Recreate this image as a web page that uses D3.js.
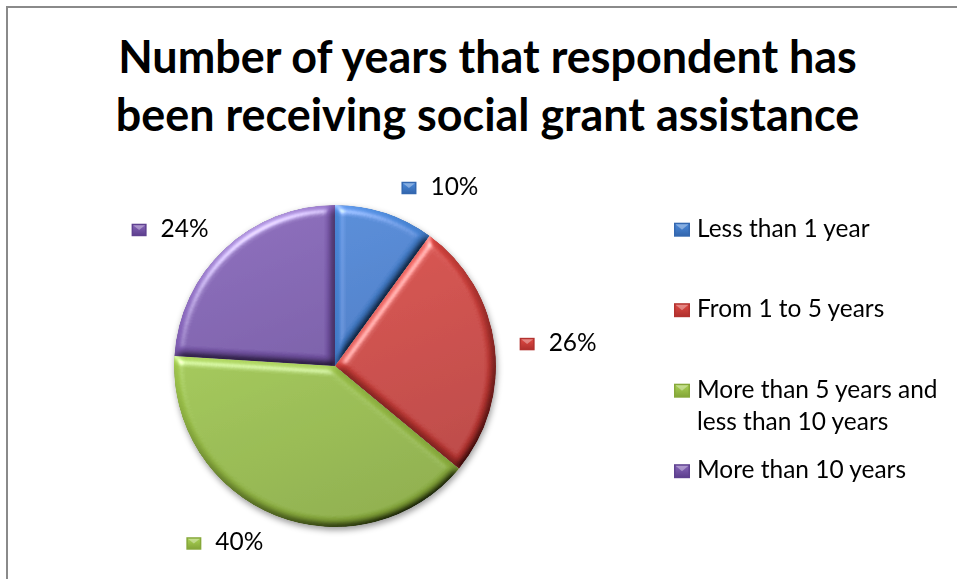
<!DOCTYPE html>
<html>
<head>
<meta charset="utf-8">
<script src="https://cdn.jsdelivr.net/npm/d3@7"></script>
<style>
  html, body { margin: 0; padding: 0; background: #fff; }
  svg { display: block; }
</style>
</head>
<body>
<script>
// ---- data ----
const titleLines = ["Number of years that respondent has", "been receiving social grant assistance"];
const categories = ["Less than 1 year", "From 1 to 5 years", "More than 5 years and less than 10 years", "More than 10 years"];
const shares = [10, 26, 40, 24];
const colorsTop = ["#4a88d8", "#dc4842", "#a8d053", "#8462b6"];
const colorsBottom = ["#3468b0", "#b3322f", "#86a83a", "#5f4190"];

// ---- layout ----
const W = 957, H = 579;
const FONT = "Lato, 'Open Sans', sans-serif";
const cx = 335, cy = 366, R = 161;

const svg = d3.select("body").append("svg").attr("width", W).attr("height", H);

function textWidth(text, weight, size) {
  const t = svg.append("text").attr("font-family", FONT).attr("font-weight", weight)
    .attr("font-size", size).text(text);
  const w = t.node().getComputedTextLength();
  t.remove();
  return w;
}
function fitSize(text, weight, target) {
  return 100 * target / textWidth(text, weight, 100);
}

const titleSize = fitSize(titleLines[0], "bold", 739);
const bodySize = (fitSize("More than 5 years and", "normal", 243) + fitSize("Less than 1 year", "normal", 171)) / 2;

// chart frame
svg.append("rect").attr("x", 7).attr("y", 7).attr("width", W + 20).attr("height", H + 20)
  .attr("fill", "#fff").attr("stroke", "#8a8a8a").attr("stroke-width", 2);

// title
svg.append("g").selectAll("text").data(titleLines).join("text")
  .attr("x", 487.5).attr("y", (d, i) => 73 + i * 58)
  .attr("text-anchor", "middle")
  .attr("font-family", FONT).attr("font-weight", "bold").attr("font-size", titleSize)
  .attr("fill", "#000").text(d => d);

// ---- defs: gradients and bevel lighting ----
const defs = svg.append("defs");
categories.forEach((c, i) => {
  const g = defs.append("linearGradient").attr("id", "gradS" + i)
    .attr("gradientUnits", "userSpaceOnUse")
    .attr("x1", -R * 0.4).attr("y1", -R).attr("x2", R * 0.4).attr("y2", R);
  g.append("stop").attr("offset", "0%").attr("stop-color", colorsTop[i]);
  g.append("stop").attr("offset", "100%").attr("stop-color", colorsBottom[i]);
  const k = defs.append("linearGradient").attr("id", "key" + i)
    .attr("x1", 0).attr("y1", 0).attr("x2", 0).attr("y2", 1);
  k.append("stop").attr("offset", "0%").attr("stop-color", colorsTop[i]);
  k.append("stop").attr("offset", "100%").attr("stop-color", colorsBottom[i]);
});

const elev = 50;
const bevel = defs.append("filter").attr("id", "bevel")
  .attr("x", "-5%").attr("y", "-5%").attr("width", "110%").attr("height", "110%");
bevel.append("feGaussianBlur").attr("in", "SourceAlpha").attr("stdDeviation", 4).attr("result", "blur");
const diff = bevel.append("feDiffuseLighting").attr("in", "blur").attr("surfaceScale", 6)
  .attr("diffuseConstant", 1).attr("lighting-color", "#fff").attr("result", "diff");
diff.append("feDistantLight").attr("azimuth", 240).attr("elevation", elev);
bevel.append("feComposite").attr("in", "SourceGraphic").attr("in2", "diff")
  .attr("operator", "arithmetic").attr("k1", 1 / Math.sin(elev * Math.PI / 180))
  .attr("k2", 0).attr("k3", 0).attr("k4", 0).attr("result", "lit");
const spec = bevel.append("feSpecularLighting").attr("in", "blur").attr("surfaceScale", 6)
  .attr("specularConstant", 0.9).attr("specularExponent", 22).attr("lighting-color", "#fff").attr("result", "spec");
spec.append("feDistantLight").attr("azimuth", 240).attr("elevation", 35);
bevel.append("feComposite").attr("in", "spec").attr("in2", "SourceAlpha").attr("operator", "in").attr("result", "specIn");
bevel.append("feComposite").attr("in", "lit").attr("in2", "specIn")
  .attr("operator", "arithmetic").attr("k1", 0).attr("k2", 1).attr("k3", 0.6).attr("k4", 0).attr("result", "out");
bevel.append("feComposite").attr("in", "out").attr("in2", "SourceAlpha").attr("operator", "in");

const shadow = defs.append("filter").attr("id", "shadow")
  .attr("x", "-10%").attr("y", "-10%").attr("width", "120%").attr("height", "125%");
shadow.append("feDropShadow").attr("dx", 1).attr("dy", 3).attr("stdDeviation", 3)
  .attr("flood-color", "#000").attr("flood-opacity", 0.4);

// ---- pie ----
const pie = d3.pie().sort(null).value(d => d).startAngle(0).endAngle(2 * Math.PI);
const arcs = pie(shares);
const arc = d3.arc().innerRadius(0).outerRadius(R);

const pieG = svg.append("g").attr("filter", "url(#shadow)");
pieG.append("g").attr("transform", `translate(${cx},${cy})`)
  .selectAll("path").data(arcs).join("path")
  .attr("d", arc)
  .attr("fill", (d, i) => `url(#gradS${i})`)
  .attr("filter", "url(#bevel)");

// small bevelled key square
function drawKey(g, x, y, w, h, i) {
  g.append("rect").attr("x", x).attr("y", y).attr("width", w).attr("height", h)
    .attr("fill", colorsBottom[i]);
  g.append("rect").attr("x", x + 1.5).attr("y", y + 1.5).attr("width", w - 3).attr("height", h - 3)
    .attr("fill", `url(#key${i})`);
  g.append("path")
    .attr("d", `M${x + 1.5},${y + 1.5}L${x + w - 1.5},${y + 1.5}L${x + w / 2},${y + h * 0.5}Z`)
    .attr("fill", "#fff").attr("opacity", 0.35);
}

// ---- data labels (key + percentage) ----
const labelG = svg.append("g");
arcs.forEach((d, i) => {
  const a = (d.startAngle + d.endAngle) / 2;
  const s = Math.sin(a), c = Math.cos(a);
  const txt = d.data + "%";
  const tw = textWidth(txt, "normal", bodySize);
  const boxW = 29 + tw;
  const nearX = cx + (R + 12) * s + (s >= 0 ? 13 : -8);
  const left = s >= 0 ? nearX : nearX - boxW;
  const baseline = cy - (R + 28) * c + 8.5;
  drawKey(labelG, left, baseline - 13, 15, 12.5, i);
  labelG.append("text").attr("x", left + 29).attr("y", baseline)
    .attr("font-family", FONT).attr("font-size", bodySize).attr("fill", "#000").text(txt);
});

// ---- legend ----
const legendG = svg.append("g");
const legendX = 674, legendTextX = 697, legendTop = 236.7, legendStep = 80.5, lineH = 32, wrapW = 250;
function wrap(text) {
  const words = text.split(" ");
  const lines = [];
  let cur = "";
  words.forEach(wd => {
    const trial = cur ? cur + " " + wd : wd;
    if (cur && textWidth(trial, "normal", bodySize) > wrapW) { lines.push(cur); cur = wd; }
    else cur = trial;
  });
  lines.push(cur);
  return lines;
}
categories.forEach((cat, i) => {
  const base = legendTop + i * legendStep;
  drawKey(legendG, legendX, base - 14, 16, 14, i);
  const t = legendG.append("text").attr("x", legendTextX).attr("y", base)
    .attr("font-family", FONT).attr("font-size", bodySize).attr("fill", "#000");
  wrap(cat).forEach((ln, j) => {
    t.append("tspan").attr("x", legendTextX).attr("y", base + j * lineH).text(ln);
  });
});
</script>
</body>
</html>
